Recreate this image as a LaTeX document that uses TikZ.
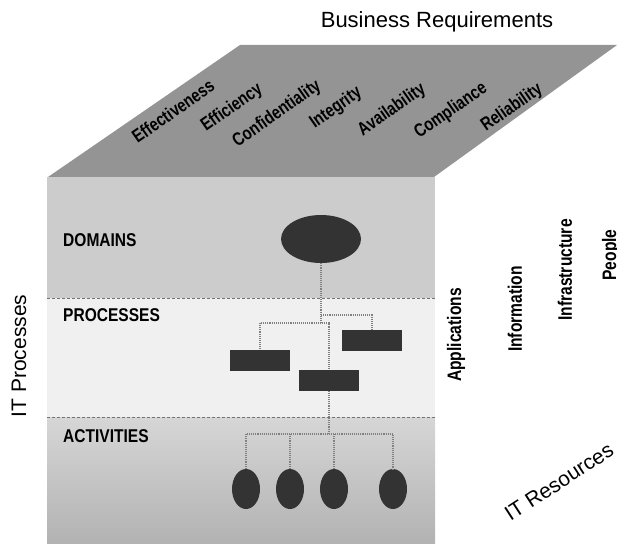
\documentclass[tikz,border=0pt]{standalone}
\usepackage{fontspec}
\setmainfont{Liberation Sans}
\newfontfamily\condfont[FakeStretch=0.8]{Liberation Sans}
\newfontfamily\bandfont[FakeStretch=0.84]{Liberation Sans}
\usetikzlibrary{shapes.geometric}
\begin{document}
\begin{tikzpicture}[x=1pt,y=-1pt,
  axistitle/.style={font=\fontsize{21}{21}\selectfont, inner sep=0pt},
  bandlabel/.style={font=\bandfont\bfseries\fontsize{18.5}{18.5}\selectfont, anchor=west, inner sep=0pt},
  reqlabel/.style={font=\condfont\bfseries\fontsize{18.5}{18.5}\selectfont, rotate=35, inner sep=0pt},
  reslabel/.style={font=\condfont\bfseries\fontsize{19.5}{19.5}\selectfont, rotate=90, inner sep=0pt},
  domblob/.style={ellipse, fill=black!80, minimum width=80pt, minimum height=48pt, inner sep=0pt},
  procbox/.style={rectangle, fill=black!80, minimum width=60pt, minimum height=21pt, inner sep=0pt},
  actblob/.style={ellipse, fill=black!80, minimum width=28pt, minimum height=40pt, inner sep=0pt},
  link/.style={draw=black!50, densely dotted, line width=1.1pt},
  divider/.style={draw=black!55, densely dashed, line width=0.8pt}
]
\useasboundingbox (0,0) rectangle (617,543);

% top face of the cube
\fill[black!42] (48,177) -- (434,177) -- (617,45) -- (240,45) -- cycle;

% front face, three bands
\fill[black!20] (47,177) rectangle (435,298);
\fill[black!6]  (47,298) rectangle (435,417);
\shade[top color=black!16, bottom color=black!30] (47,417) rectangle (435,543);
\draw[divider] (47,298) -- (435,298);
\draw[divider] (47,417) -- (435,417);

% axis titles
\node[axistitle, font=\fontsize{22}{22}\selectfont] (br) at (437,22) {Business Requirements};
\node[axistitle, rotate=90] (itp) at (19,356) {IT Processes};
\node[axistitle, rotate=33] (itr) at (559,482) {IT Resources};

% business requirements on the top face
\node[reqlabel] (q1) at (173,111) {Effectiveness};
\node[reqlabel] (q2) at (232,108) {Efficiency};
\node[reqlabel] (q3) at (277,114) {Confidentiality};
\node[reqlabel] (q4) at (336,108) {Integrity};
\node[reqlabel] (q5) at (392,110) {Availability};
\node[reqlabel] (q6) at (451,111) {Compliance};
\node[reqlabel] (q7) at (512,108) {Reliability};

% IT resources on the side
\node[reslabel] (r1) at (456,335) {Applications};
\node[reslabel] (r2) at (515,309) {Information};
\node[reslabel] (r3) at (565,270) {Infrastructure};
\node[reslabel] (r4) at (611,255) {People};

% band labels
\node[bandlabel] (lbd) at (63,240) {DOMAINS};
\node[bandlabel] (lbp) at (63,315) {PROCESSES};
\node[bandlabel] (lba) at (63,436) {ACTIVITIES};

% hierarchy
\node[domblob] (dom) at (321,239) {};
\node[procbox] (p1) at (260,360) {};
\node[procbox] (p2) at (372,340) {};
\node[procbox] (p3) at (329,380) {};
\node[actblob] (a1) at (246,489) {};
\node[actblob] (a2) at (290,489) {};
\node[actblob] (a3) at (334,489) {};
\node[actblob] (a4) at (393,489) {};

\coordinate (t1) at (321,315);
\coordinate (t2) at (321,323);
\coordinate (t3) at (329,434);

\draw[link] (dom.south) -- (t2);
\draw[link] (t1) -| (p2.north);
\draw[link] (p1.north) |- (t2) -| (p3.north);
\draw[link] (p3.south) -- (p3.south |- t3);
\draw[link] (a1.north) |- (a4.north |- t3) -- (a4.north);
\draw[link] (a2.north) -- (a2.north |- t3);
\draw[link] (a3.north) -- (a3.north |- t3);
\end{tikzpicture}
\end{document}
